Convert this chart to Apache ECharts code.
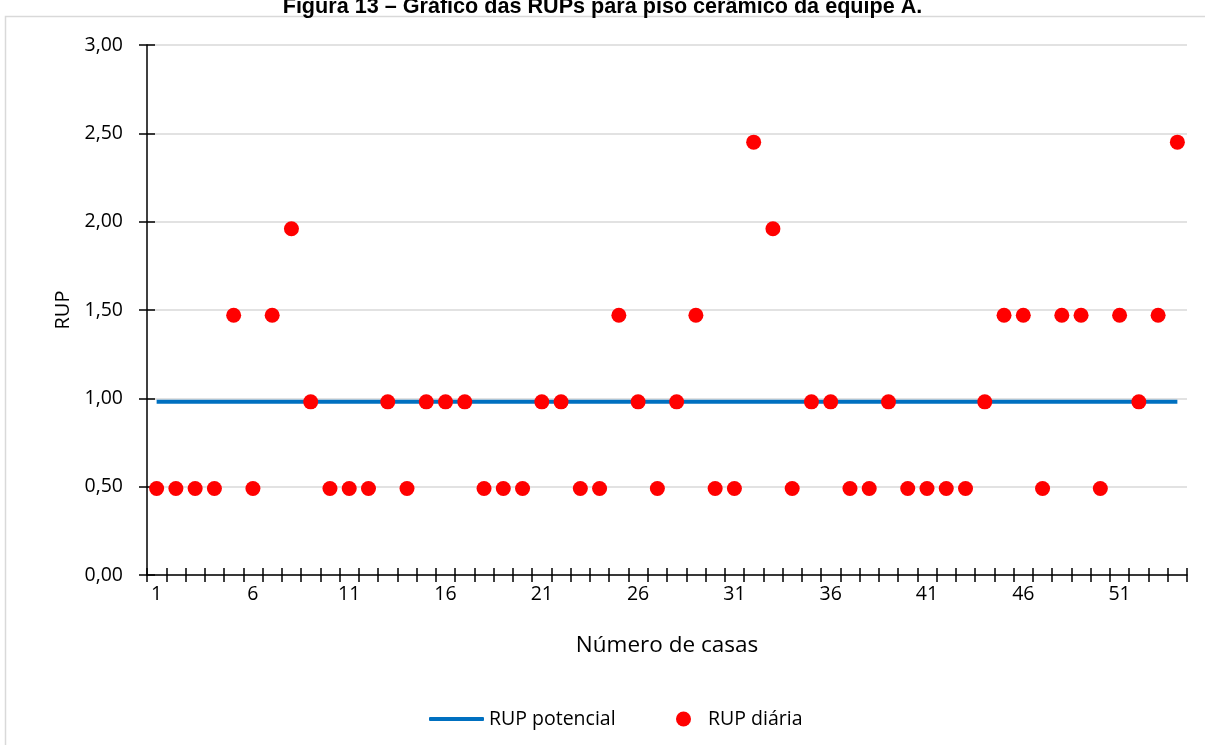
<!DOCTYPE html>
<html><head><meta charset="utf-8">
<script src="https://cdn.jsdelivr.net/npm/echarts@6/dist/echarts.min.js"></script>
<style>html,body{margin:0;padding:0;background:#fff}#c{width:1205px;height:745px}</style>
</head><body><div id="c"></div>
<script>
const categories = Array.from({length: 54}, (_, i) => String(i + 1));
const rupDiaria = [0.49,0.49,0.49,0.49,1.47,0.49,1.47,1.96,0.98,0.49,
  0.49,0.49,0.98,0.49,0.98,0.98,0.98,0.49,0.49,0.49,
  0.98,0.98,0.49,0.49,1.47,0.98,0.49,0.98,1.47,0.49,
  0.49,2.45,1.96,0.49,0.98,0.98,0.49,0.49,0.98,0.49,
  0.49,0.49,0.49,0.98,1.47,1.47,0.49,1.47,1.47,0.49,
  1.47,0.98,1.47,2.45];
const rupPotencial = categories.map(() => 0.98);
const titleText = 'Figura 13 – Gráfico das RUPs para piso cerâmico da equipe A.';
const seriesNames = ['RUP potencial', 'RUP diária'];
const yName = 'RUP';
const xName = 'Número de casas';

const font = '"Open Sans", "Noto Sans", sans-serif';
const chart = echarts.init(document.getElementById('c'));
chart.setOption({
  animation: false,
  backgroundColor: '#fff',
  title: {text: titleText, left: 'center', top: -9,
    textStyle: {fontFamily: 'Liberation Sans, Arial, sans-serif', fontWeight: 'bold', fontSize: 21.6, color: '#000'}},
  graphic: [{type: 'rect', left: 3, top: 14, shape: {width: 1215, height: 745},
    style: {fill: 'none', stroke: '#d9d9d9', lineWidth: 1.5}, z: -1}],
  grid: {left: 147, right: 18, top: 45, bottom: 170, containLabel: false},
  legend: [{
    left: 424, top: 704, itemWidth: 55, itemHeight: 4, icon: 'roundRect',
    textStyle: {fontFamily: font, fontSize: 19.5, color: '#000'},
    data: [{name: seriesNames[0], itemStyle: {color: '#0070c0'}}]
  }, {
    left: 671, top: 704, itemWidth: 15, itemHeight: 15, icon: 'circle',
    textStyle: {fontFamily: font, fontSize: 19.5, color: '#000', padding: [0, 0, 0, 12]},
    data: [{name: seriesNames[1]}]
  }],
  xAxis: [{
    type: 'category', data: categories, boundaryGap: true,
    name: xName, nameLocation: 'middle', nameGap: 59,
    nameTextStyle: {fontFamily: font, fontSize: 22.5, color: '#000'},
    axisLine: {lineStyle: {color: '#000', width: 1.5}},
    axisTick: {show: true, length: 7, interval: 0, lineStyle: {color: '#000', width: 1.5}},
    axisLabel: {interval: 4, fontFamily: font, fontSize: 19.5, color: '#000', margin: 9},
    splitLine: {show: false}
  }, {
    type: 'category', data: categories, boundaryGap: true, position: 'bottom',
    axisLine: {show: false},
    axisTick: {show: true, inside: true, length: 7, interval: 0, lineStyle: {color: '#000', width: 1.5}},
    axisLabel: {show: false}, splitLine: {show: false}
  }],
  yAxis: [{
    type: 'value', min: 0, max: 3, interval: 0.5,
    name: yName, nameLocation: 'middle', nameGap: 72, nameRotate: 90,
    nameTextStyle: {fontFamily: font, fontSize: 20, color: '#000'},
    axisLine: {show: true, lineStyle: {color: '#000', width: 1.5}},
    axisTick: {show: true, length: 8, lineStyle: {color: '#000', width: 1.5}},
    axisLabel: {fontFamily: font, fontSize: 19.5, color: '#000', margin: 24,
      formatter: v => v.toFixed(2).replace('.', ',')},
    splitLine: {show: true, lineStyle: {color: '#d9d9d9', width: 1.5}}
  }, {
    type: 'value', min: 0, max: 3, interval: 0.5, position: 'left',
    axisLine: {show: false},
    axisTick: {show: true, inside: true, length: 8, lineStyle: {color: '#000', width: 1.5}},
    axisLabel: {show: false}, splitLine: {show: false}
  }],
  series: [{
    name: seriesNames[0], type: 'line', data: rupPotencial, symbol: 'none',
    lineStyle: {color: '#0070c0', width: 4}, itemStyle: {color: '#0070c0'}, z: 2
  }, {
    name: seriesNames[1], type: 'scatter', data: rupDiaria, symbolSize: 15,
    itemStyle: {color: '#ff0000', opacity: 1}, z: 3
  }]
});
</script></body></html>
